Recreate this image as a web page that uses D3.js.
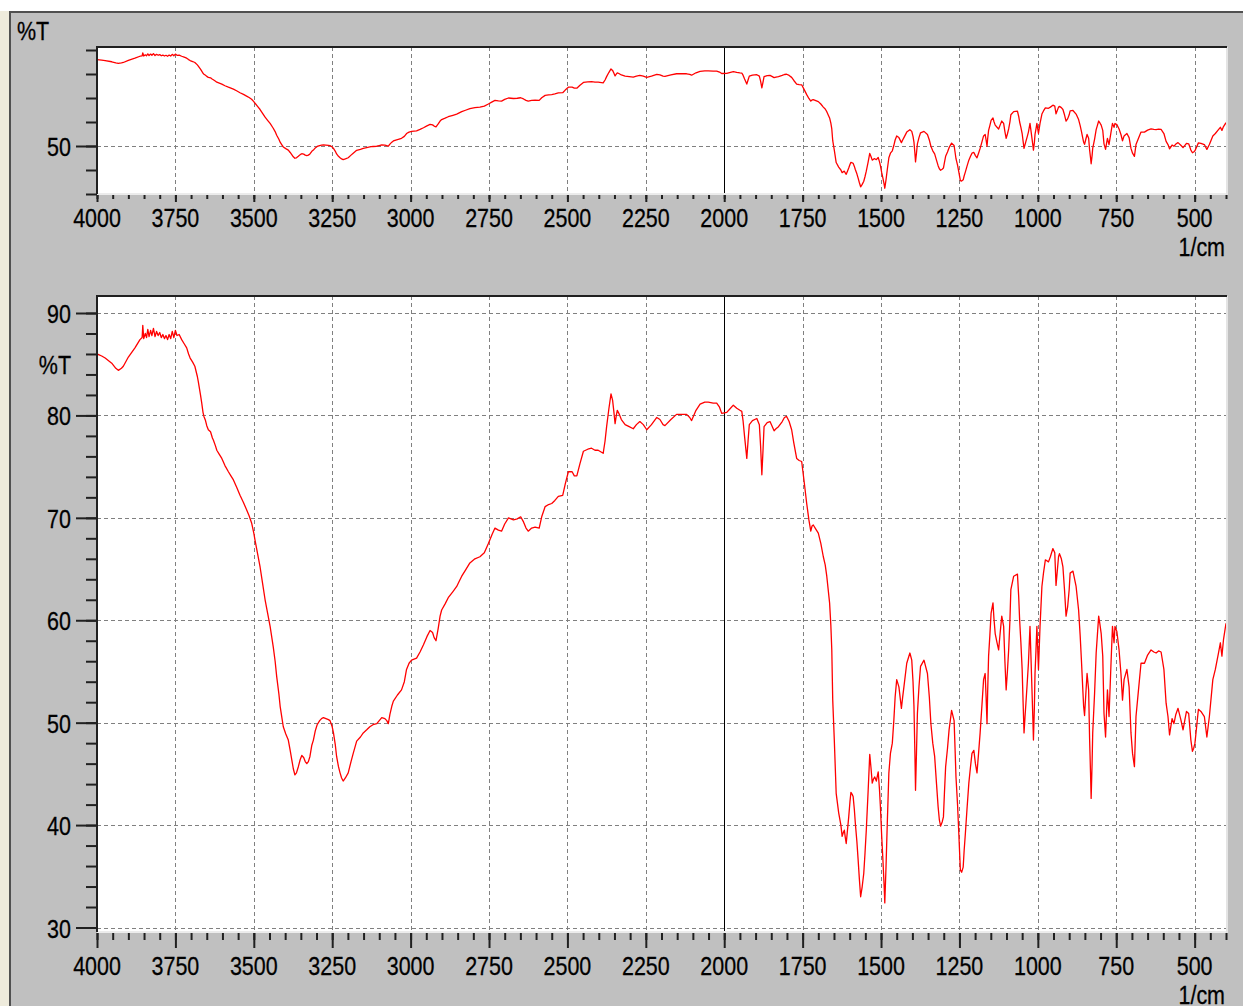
<!DOCTYPE html>
<html>
<head>
<meta charset="utf-8">
<script src="https://cdn.jsdelivr.net/npm/d3@7"></script>
<style>
  body { margin: 0; background: #fff; }
  text { font-family: 'Liberation Sans', Arial, sans-serif; fill: #000; }
</style>
</head>
<body>
<div id="chart"></div>
<script>
// IR spectrum, wavenumber (1/cm) vs %T
const wavenumber = [
  4000, 3985, 3974, 3953, 3940, 3932, 3922, 3916, 3900, 3879, 3863, 3856, 3854, 3851, 3846, 3842, 3838, 3834, 3829, 3825,
  3820, 3815, 3810, 3805, 3800, 3795, 3790, 3785, 3780, 3775, 3770, 3765, 3760, 3755, 3750, 3745, 3738, 3730, 3722, 3714,
  3708, 3703, 3695, 3688, 3680, 3677, 3670, 3666, 3662, 3659, 3654, 3650, 3645, 3638, 3632, 3629, 3622, 3618, 3610, 3602,
  3592, 3581, 3573, 3565, 3555, 3544, 3533, 3523, 3515, 3507, 3500, 3496, 3488, 3480, 3472, 3464, 3456, 3448, 3438, 3432,
  3427, 3420, 3416, 3410, 3406, 3398, 3390, 3384, 3379, 3374, 3369, 3364, 3358, 3352, 3347, 3341, 3336, 3331, 3326, 3321,
  3315, 3310, 3304, 3298, 3290, 3284, 3278, 3270, 3262, 3257, 3250, 3246, 3240, 3236, 3230, 3225, 3220, 3215, 3208, 3199,
  3190, 3183, 3172, 3160, 3151, 3140, 3130, 3120, 3108, 3100, 3092, 3082, 3076, 3071, 3066, 3060, 3055, 3042, 3029, 3020,
  3013, 3005, 2997, 2981, 2970, 2959, 2948, 2938, 2930, 2925, 2919, 2912, 2906, 2901, 2890, 2880, 2865, 2853, 2845, 2837,
  2825, 2811, 2795, 2779, 2765, 2752, 2740, 2731, 2720, 2710, 2700, 2688, 2672, 2660, 2649, 2640, 2632, 2625, 2614, 2603,
  2590, 2582, 2571, 2560, 2550, 2540, 2529, 2515, 2507, 2497, 2485, 2478, 2470, 2460, 2449, 2435, 2423, 2412, 2402, 2386,
  2380, 2375, 2368, 2361, 2356, 2352, 2348, 2344, 2341, 2336, 2328, 2316, 2303, 2290, 2280, 2269, 2258, 2247, 2232, 2215,
  2205, 2195, 2189, 2170, 2152, 2135, 2120, 2110, 2104, 2090, 2077, 2062, 2051, 2035, 2024, 2015, 2008, 1992, 1980, 1971,
  1960, 1950, 1944, 1940, 1935, 1928, 1924, 1920, 1910, 1896, 1888, 1884, 1880, 1876, 1873, 1863, 1854, 1848, 1841, 1835,
  1827, 1815, 1808, 1801, 1793, 1785, 1778, 1769, 1761, 1753, 1745, 1737, 1730, 1724, 1720, 1716, 1708, 1700, 1692, 1684,
  1678, 1673, 1664, 1660, 1657, 1654, 1649, 1643, 1635, 1628, 1624, 1620, 1617, 1614, 1611, 1607, 1603, 1599, 1596, 1592,
  1589, 1585, 1582, 1577, 1573, 1569, 1565, 1560, 1555, 1551, 1547, 1541, 1536, 1532, 1528, 1524, 1520, 1515, 1509, 1505,
  1502, 1498, 1494, 1490, 1488, 1484, 1480, 1475, 1470, 1464, 1459, 1455, 1450, 1443, 1435, 1431, 1427, 1418, 1408, 1402,
  1398, 1395, 1392, 1390, 1387, 1384, 1379, 1374, 1363, 1352, 1346, 1341, 1335, 1329, 1323, 1318, 1314, 1310, 1305, 1301,
  1298, 1294, 1288, 1283, 1275, 1267, 1264, 1261, 1256, 1252, 1249, 1247, 1243, 1238, 1235, 1231, 1226, 1220, 1215, 1210,
  1204, 1199, 1194, 1189, 1184, 1178, 1173, 1168, 1165, 1162, 1160, 1157, 1153, 1149, 1143, 1140, 1136, 1130, 1125, 1120,
  1115, 1109, 1105, 1101, 1097, 1093, 1089, 1086, 1077, 1065, 1061, 1058, 1054, 1050, 1047, 1044, 1041, 1038, 1034, 1030,
  1025, 1022, 1019, 1016, 1014, 1011, 1009, 1006, 1003, 998, 993, 987, 982, 976, 966, 960, 952, 946, 944, 942,
  938, 934, 931, 925, 920, 915, 910, 905, 900, 897, 888, 878, 870, 865, 861, 857, 854, 851, 847, 843,
  838, 835, 832, 830, 827, 825, 819, 814, 810, 806, 802, 798, 793, 789, 784, 781, 778, 773, 767, 762,
  757, 754, 748, 741, 735, 730, 725, 716, 709, 703, 698, 692, 687, 679, 671, 660, 650, 639, 630, 623,
  615, 607, 598, 591, 585, 580, 572, 566, 560, 553, 544, 537, 531, 526, 519, 512, 507, 503, 499, 493,
  488, 480, 469, 461, 453, 442, 434, 424, 418, 413, 408, 400,
];
const transmittance = [
  86.0, 85.8, 85.6, 85.1, 84.6, 84.4, 84.6, 84.8, 85.7, 86.6, 87.4, 87.6, 88.8, 87.5, 88.0, 87.6, 88.4, 87.7, 88.3, 87.8,
  88.5, 87.7, 88.2, 87.8, 88.1, 87.6, 87.9, 87.5, 87.8, 87.4, 87.9, 87.5, 88.2, 87.6, 88.3, 87.8, 87.9, 87.4, 87.0, 86.6,
  86.0, 85.6, 85.2, 84.8, 83.8, 83.3, 82.0, 81.2, 80.3, 79.9, 79.5, 79.0, 78.6, 78.4, 77.8, 77.6, 77.0, 76.6, 76.2, 75.8,
  75.1, 74.5, 74.1, 73.7, 73.0, 72.2, 71.5, 70.8, 70.2, 69.5, 68.5, 67.8, 66.5, 65.2, 63.6, 62.0, 60.7, 59.4, 57.4, 56.0,
  54.5, 52.8, 51.6, 50.4, 49.6, 48.9, 48.3, 47.3, 46.4, 45.5, 44.9, 45.1, 45.7, 46.4, 46.8, 46.6, 46.2, 46.0, 46.2, 46.7,
  47.8, 48.3, 49.2, 49.8, 50.2, 50.4, 50.5, 50.4, 50.3, 50.2, 49.6, 49.0, 47.8, 46.7, 45.7, 45.1, 44.6, 44.3, 44.6, 45.1,
  46.2, 47.0, 48.2, 48.6, 49.0, 49.3, 49.6, 49.8, 49.9, 50.2, 50.5, 50.4, 50.2, 49.9, 50.8, 51.6, 52.1, 52.7, 53.2, 54.0,
  55.2, 55.8, 56.1, 56.3, 56.9, 57.6, 58.4, 59.0, 58.8, 58.3, 58.0, 59.2, 60.4, 61.0, 61.6, 62.2, 62.8, 63.3, 63.8, 64.3,
  64.9, 65.6, 66.0, 66.2, 66.6, 67.5, 68.4, 69.0, 68.8, 68.7, 69.4, 70.0, 69.8, 69.9, 70.1, 69.6, 69.0, 68.7, 69.0, 69.1,
  69.0, 70.1, 71.1, 71.3, 71.4, 71.7, 72.1, 72.2, 73.3, 74.5, 74.5, 74.1, 74.1, 75.3, 76.5, 76.7, 76.8, 76.6, 76.6, 76.3,
  77.5, 78.9, 80.6, 82.1, 81.5, 80.4, 79.2, 80.0, 80.5, 80.2, 79.6, 79.1, 78.9, 78.7, 79.1, 79.4, 79.1, 78.6, 79.1, 79.8,
  79.6, 79.1, 79.0, 79.6, 80.1, 80.1, 80.1, 79.8, 79.5, 80.5, 81.1, 81.3, 81.3, 81.2, 81.2, 80.8, 80.2, 80.3, 80.7, 81.0,
  80.7, 80.5, 80.4, 79.5, 77.9, 75.8, 77.5, 79.1, 79.5, 79.7, 79.1, 77.0, 74.2, 76.8, 78.9, 79.3, 79.4, 79.0, 78.5, 78.7,
  78.9, 79.4, 79.8, 79.9, 79.4, 78.6, 77.3, 75.8, 75.6, 75.5, 73.5, 71.4, 69.8, 68.7, 69.2, 69.3, 68.9, 68.5, 67.5, 66.2,
  65.4, 64.3, 61.7, 59.5, 57.1, 52.2, 48.3, 43.1, 41.2, 40.0, 38.9, 39.3, 39.5, 38.8, 38.2, 39.5, 40.8, 42.3, 43.2, 43.0,
  42.8, 41.5, 40.2, 38.4, 36.6, 34.7, 33.0, 34.0, 35.3, 37.3, 39.5, 43.4, 46.9, 45.6, 44.1, 44.5, 44.7, 44.3, 45.2, 43.5,
  41.8, 39.0, 36.6, 34.0, 32.4, 36.0, 40.2, 45.1, 47.0, 48.0, 50.3, 52.5, 54.2, 53.5, 51.4, 52.5, 53.5, 55.8, 56.8, 56.1,
  54.0, 51.6, 47.0, 43.4, 47.0, 50.9, 53.5, 55.5, 56.1, 54.8, 52.5, 49.9, 48.0, 46.7, 44.0, 41.8, 40.5, 39.9, 40.3, 40.8,
  43.0, 45.7, 47.5, 49.3, 51.2, 50.2, 47.5, 44.7, 42.0, 39.2, 37.0, 35.6, 35.4, 35.9, 37.5, 39.2, 41.5, 44.1, 45.6, 47.0,
  47.3, 46.0, 45.1, 47.0, 49.0, 51.8, 54.2, 54.8, 52.5, 49.9, 53.0, 56.5, 58.5, 60.7, 61.7, 60.2, 58.7, 57.8, 57.1, 58.8,
  60.4, 59.4, 56.0, 53.2, 55.0, 57.1, 60.0, 63.0, 64.3, 64.5, 62.3, 60.0, 57.8, 55.2, 52.0, 49.0, 50.5, 51.9, 53.8, 55.8,
  59.4, 56.5, 53.5, 50.5, 48.3, 51.5, 54.8, 57.0, 59.4, 55.2, 59.4, 63.3, 64.6, 65.9, 65.7, 66.2, 67.0, 66.6, 65.0, 63.4,
  64.8, 66.2, 66.5, 66.0, 65.2, 63.0, 60.4, 61.3, 63.0, 64.6, 64.8, 63.3, 61.0, 58.5, 56.1, 53.5, 51.6, 50.7, 52.8, 54.8,
  53.2, 48.5, 45.1, 42.6, 46.0, 49.0, 52.9, 56.8, 58.6, 60.4, 59.6, 58.7, 56.5, 50.9, 48.6, 51.0, 53.2, 50.6, 55.5, 59.4,
  57.8, 59.4, 58.9, 57.1, 54.8, 52.2, 54.2, 55.2, 53.5, 49.0, 47.0, 45.7, 50.6, 53.2, 55.8, 55.8, 56.6, 57.1, 56.9, 56.8,
  57.0, 56.9, 55.2, 51.9, 50.6, 48.8, 50.4, 49.9, 50.8, 51.4, 50.3, 49.3, 50.3, 51.1, 50.9, 48.3, 47.2, 47.5, 48.0, 49.8,
  51.3, 51.1, 50.6, 48.6, 50.6, 54.2, 55.2, 56.8, 57.8, 56.5, 58.1, 59.7,
];

const xMajor = [4000, 3750, 3500, 3250, 3000, 2750, 2500, 2250, 2000, 1750, 1500, 1250, 1000, 750, 500];
const xMinor = d3.range(4000, 399, -50);
const yMajor = [90, 80, 70, 60, 50, 40, 30];
const yMinor = d3.range(30, 91, 2);
const topYTicks = [90, 80, 70, 60, 50, 40, 30];
const topYLabels = [50];
const xUnit = '1/cm';
const yUnit = '%T';

const data = wavenumber.map((w, i) => ({ w, t: transmittance[i] }));

const W = 1243;
const H = 1006;
const svg = d3.select('#chart').append('svg').attr('width', W).attr('height', H);

// window chrome
svg.append('rect').attr('width', W).attr('height', H).attr('fill', '#fff');
svg.append('rect').attr('x', 0).attr('y', 11).attr('width', 10).attr('height', H - 11).attr('fill', '#eeebdc');
svg.append('rect').attr('x', 10).attr('y', 12).attr('width', W - 10).attr('height', H - 12).attr('fill', '#c0c0c0');
svg.append('line').attr('x1', 9).attr('x2', W).attr('y1', 12).attr('y2', 12).attr('stroke', '#505050').attr('stroke-width', 2);
svg.append('line').attr('x1', 10).attr('x2', 10).attr('y1', 11).attr('y2', H).attr('stroke', '#505050').attr('stroke-width', 2);

const x = d3.scaleLinear().domain([4000, 400]).range([97, 1226]);

// condensed text: the original screenshot is stretched vertically
function label(g, px, py, txt, anchor) {
  g.append('text')
    .attr('transform', `translate(${px},${py}) scale(0.81,1)`)
    .attr('text-anchor', anchor)
    .style('font-size', '26.5px')
    .style('stroke', '#000')
    .style('stroke-width', 0.3)
    .text(txt);
}

function ticks(g, axis, values, size) {
  g.call(axis.tickValues(values).tickSize(size).tickFormat(''));
  g.select('.domain').remove();
  g.selectAll('line').attr('stroke', '#202020').attr('stroke-width', 2);
}

function drawPanel(p) {
  const y = d3.scaleLinear().domain([30, 90]).range(p.yRange);
  const g = svg.append('g');

  g.append('rect')
    .attr('x', p.l).attr('y', p.t)
    .attr('width', p.r - p.l).attr('height', p.b - p.t)
    .attr('fill', '#fff');

  const id = `clip-${p.name}`;
  g.append('clipPath').attr('id', id)
    .append('rect').attr('x', p.l).attr('y', p.t).attr('width', p.r - p.l).attr('height', p.b - p.t);

  // grid
  g.selectAll('.vgrid')
    .data(xMajor.filter((d) => d !== 4000 && d !== 2000))
    .join('line')
    .attr('x1', (d) => Math.round(x(d)) + 0.5).attr('x2', (d) => Math.round(x(d)) + 0.5)
    .attr('y1', p.t).attr('y2', p.b)
    .attr('stroke', '#808080').attr('stroke-dasharray', '4,3');
  g.selectAll('.hgrid')
    .data(p.hGrid)
    .join('line')
    .attr('x1', p.l).attr('x2', p.r)
    .attr('y1', (d) => Math.round(y(d)) + 0.5).attr('y2', (d) => Math.round(y(d)) + 0.5)
    .attr('stroke', '#808080').attr('stroke-dasharray', '4,3');
  g.append('line')
    .attr('x1', Math.round(x(2000)) + 0.5).attr('x2', Math.round(x(2000)) + 0.5)
    .attr('y1', p.t).attr('y2', p.b)
    .attr('stroke', '#000').attr('stroke-width', 1);

  // spectrum
  const line = d3.line().x((d) => x(d.w)).y((d) => y(d.t));
  g.append('path')
    .datum(data)
    .attr('clip-path', `url(#${id})`)
    .attr('d', line)
    .attr('fill', 'none')
    .attr('stroke', '#ff0000')
    .attr('stroke-width', p.lw)
    .attr('stroke-linejoin', 'round');

  // sunken frame
  g.append('line').attr('x1', p.l).attr('x2', p.r + 1).attr('y1', p.b + 1).attr('y2', p.b + 1)
    .attr('stroke', '#ececec').attr('stroke-width', 2);
  g.append('line').attr('x1', p.r + 1).attr('x2', p.r + 1).attr('y1', p.t).attr('y2', p.b + 2)
    .attr('stroke', '#e4e4e4').attr('stroke-width', 2);
  g.append('line').attr('x1', p.l - 1).attr('x2', p.r + 1).attr('y1', p.t).attr('y2', p.t)
    .attr('stroke', '#202020').attr('stroke-width', 2);
  g.append('line').attr('x1', p.l).attr('x2', p.l).attr('y1', p.t).attr('y2', p.b + 1)
    .attr('stroke', '#202020').attr('stroke-width', 2);

  // y ticks
  ticks(g.append('g').attr('transform', `translate(${p.l},0)`), d3.axisLeft(y), p.yMinor, 11);
  ticks(g.append('g').attr('transform', `translate(${p.l},0)`), d3.axisLeft(y), p.yMajor, 21);
  p.yLabels.forEach((v) => label(g, 71, y(v) + 10, v, 'end'));

  // x ticks
  ticks(g.append('g').attr('transform', `translate(0,${p.b + 2})`), d3.axisBottom(x), xMinor, p.minorLen);
  ticks(g.append('g').attr('transform', `translate(0,${p.b + 2})`), d3.axisBottom(x), xMajor, p.majorLen);
  xMajor.forEach((v) => label(g, x(v), p.xLabelY, v, 'middle'));
  label(g, 1225, p.unitY, xUnit, 'end');
}

drawPanel({
  name: 'top', l: 97, r: 1226, t: 47, b: 193, yRange: [194, 50], lw: 1.3,
  hGrid: [50], yMinor: topYTicks, yMajor: [50], yLabels: topYLabels,
  minorLen: 4, majorLen: 7, xLabelY: 227, unitY: 256,
});
drawPanel({
  name: 'bottom', l: 97, r: 1226, t: 296, b: 931, yRange: [927.5, 313], lw: 1.3,
  hGrid: yMajor, yMinor: yMinor, yMajor: yMajor, yLabels: yMajor,
  minorLen: 7, majorLen: 15, xLabelY: 975, unitY: 1004,
});

label(svg, 17, 40, yUnit, 'start');
label(svg, 71, 374, yUnit, 'end');
</script>
</body>
</html>
